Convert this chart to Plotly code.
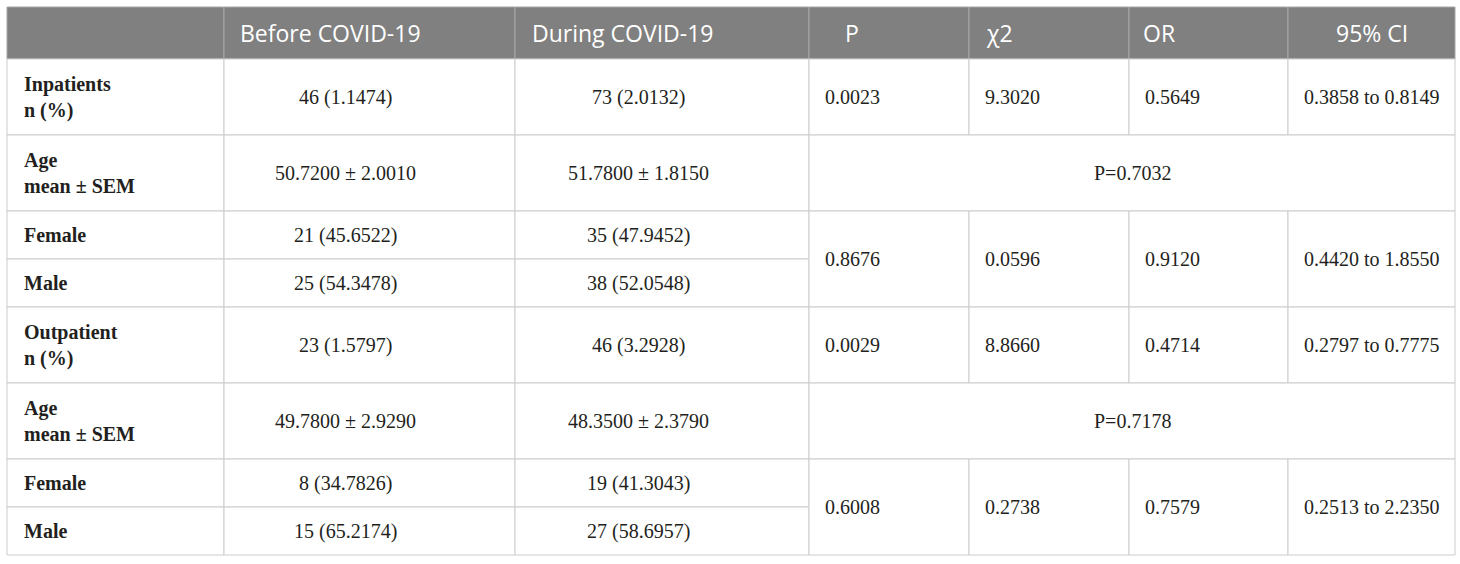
import plotly.graph_objects as go

# table content
header = ["", "Before COVID-19", "During COVID-19", "P", "\u03c72", "OR", "95% CI"]
row_labels = ["Inpatients<br>n (%)", "Age<br>mean \u00b1 SEM", "Female", "Male",
              "Outpatient<br>n (%)", "Age<br>mean \u00b1 SEM", "Female", "Male"]
before = ["46 (1.1474)", "50.7200 \u00b1 2.0010", "21 (45.6522)", "25 (54.3478)",
          "23 (1.5797)", "49.7800 \u00b1 2.9290", "8 (34.7826)", "15 (65.2174)"]
during = ["73 (2.0132)", "51.7800 \u00b1 1.8150", "35 (47.9452)", "38 (52.0548)",
          "46 (3.2928)", "48.3500 \u00b1 2.3790", "19 (41.3043)", "27 (58.6957)"]

# stats blocks: first row + number of rows. empty chi2 = P merged across all stat columns
p_vals = ["0.0023", "P=0.7032", "0.8676", "0.0029", "P=0.7178", "0.6008"]
chi2_vals = ["9.3020", "", "0.0596", "8.8660", "", "0.2738"]
or_vals = ["0.5649", "", "0.9120", "0.4714", "", "0.7579"]
ci_vals = ["0.3858 to 0.8149", "", "0.4420 to 1.8550", "0.2797 to 0.7775", "", "0.2513 to 2.2350"]
block_start = [0, 1, 2, 4, 5, 6]
block_span = [1, 1, 2, 1, 1, 2]

# grid layout (pixels)
col_edges = [7, 224, 515, 809, 969, 1129, 1288, 1455]
row_edges = [7, 59, 135, 211, 259, 307, 383, 459, 507, 555]

GRID = "#cccccc"
HEAD_BG = "#808080"
TXT = "#231f20"
SERIF = "Liberation Serif"
SANS = "Open Sans"

fig = go.Figure()
shapes = []
annotations = []


def cell(x0, x1, y0, y1, fill="white", line=GRID):
    shapes.append(dict(type="rect", xref="x", yref="y", x0=x0, x1=x1, y0=y0, y1=y1,
                       fillcolor=fill, line=dict(color=line, width=1), layer="below"))


def text(x, y, s, anchor="left", bold=False, font=SERIF, size=20, color=TXT):
    annotations.append(dict(x=x, y=y, xref="x", yref="y", text=s, showarrow=False,
                            xanchor=anchor, yanchor="middle", align="left",
                            font=dict(family=font, size=size, color=color,
                                      weight="bold" if bold else "normal")))


# header row
y0, y1 = row_edges[0], row_edges[1]
ymid = (y0 + y1) / 2
for c in range(len(header)):
    cell(col_edges[c], col_edges[c + 1], y0, y1, fill=HEAD_BG, line="#a6a6a6")
header_pos = [15, 14, 15, 34, 15, 12, None]
for c, h in enumerate(header):
    if h == "":
        continue
    if header_pos[c] is None:
        text((col_edges[c] + col_edges[c + 1]) / 2, ymid, h, anchor="center", font=SANS, size=23, color="white")
    else:
        text(col_edges[c] + header_pos[c], ymid, h, font=SANS, size=23, color="white")

# label + before/during columns
for r in range(len(row_labels)):
    y0, y1 = row_edges[r + 1], row_edges[r + 2]
    ymid = (y0 + y1) / 2
    for c in range(3):
        cell(col_edges[c], col_edges[c + 1], y0, y1)
    text(col_edges[0] + 15, ymid, row_labels[r], bold=True)
    for c, vals in [(1, before), (2, during)]:
        w = col_edges[c + 1] - col_edges[c]
        text(col_edges[c] + (w - 48) / 2, ymid, vals[r], anchor="center")

# stats columns
for b in range(len(p_vals)):
    y0 = row_edges[block_start[b] + 1]
    y1 = row_edges[block_start[b] + block_span[b] + 1]
    ymid = (y0 + y1) / 2
    if chi2_vals[b] == "":
        cell(col_edges[3], col_edges[7], y0, y1)
        text((col_edges[3] + col_edges[7]) / 2, ymid, p_vals[b], anchor="center")
        continue
    for k, vals in enumerate([p_vals, chi2_vals, or_vals, ci_vals]):
        c = 3 + k
        cell(col_edges[c], col_edges[c + 1], y0, y1)
        text(col_edges[c] + 14, ymid, vals[b])

fig.update_layout(
    width=1460, height=564,
    margin=dict(l=0, r=0, t=0, b=0),
    paper_bgcolor="white", plot_bgcolor="white",
    xaxis=dict(range=[0, 1460], visible=False, fixedrange=True),
    yaxis=dict(range=[564, 0], visible=False, fixedrange=True),
    shapes=shapes, annotations=annotations,
    showlegend=False,
)

# drop the default 8px page margin so the table sits where it should
fig.write_html("out.html", config={"displayModeBar": False},
               post_script="document.body.style.margin='0';")
